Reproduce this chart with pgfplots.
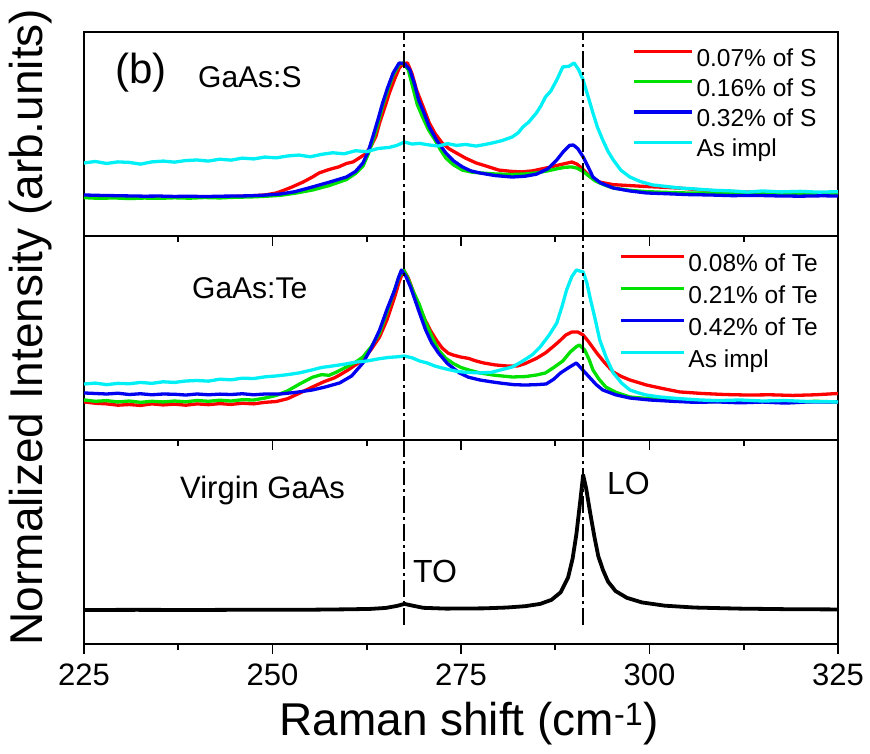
\documentclass[border=0pt]{standalone}
\usepackage{fontspec}
\setmainfont{Liberation Sans}
\usepackage{pgfplots}
\pgfplotsset{compat=1.18}

\definecolor{cRed}{RGB}{255,0,0}
\definecolor{cGreen}{RGB}{0,225,0}
\definecolor{cBlue}{RGB}{0,0,240}
\definecolor{cCyan}{RGB}{0,240,245}

\pgfplotsset{
  panel/.style={
    scale only axis, width=754pt, height=204pt,
    xmin=225, xmax=325,
    xtick={225,250,275,300,325},
    minor xtick={237.5,262.5,287.5,312.5},
    xtick pos=bottom, ytick=\empty,
    tick align=outside,
    major tick length=10pt, minor tick length=6pt,
    every tick/.append style={black, line width=1.6pt},
    axis line style={line width=2pt},
    /pgf/number format/assume math mode=true,
    xticklabel style={font=\fontsize{31}{37}\selectfont, anchor=base, yshift=-31pt},
    legend cell align=left,
  },
  spec/.style={line width=3.3pt, line join=round},
  guide/.style={black, line width=2pt, dash pattern=on 17pt off 4pt on 3pt off 4pt, forget plot},
}

\begin{document}
\begin{tikzpicture}
\path[use as bounding box] (-84pt,-109pt) rectangle (786pt,644pt);

% ---------------- GaAs:S ----------------
\begin{axis}[panel, at={(0pt,408pt)}, anchor=south west,
  ymin=-0.291, ymax=1.231, xticklabels={},
  legend style={draw=none, fill=none, at={(0.7268,0.920)}, anchor=north west,
    inner sep=0pt, row sep=7.8pt,
    nodes={inner xsep=3pt, inner ysep=0pt, text height=17.5pt, text depth=5pt,
      font=\fontsize{24.5}{29}\selectfont}},
  legend image code/.code={\draw[#1] (0pt,8.5pt) -- (58pt,8.5pt);}]
\addplot[spec, cRed] coordinates {
(225,.010)(227,.004)(229,.000)(231,-.003)(233,.001)(235,-.004)(237,.000)(239,-.003)
(241,.002)(243,.000)(245,.004)(247,.008)(249,.015)(250.5,.030)(251.5,.050)(252.6,.075)
(254,.110)(255.3,.149)(256.2,.180)(257.5,.205)(258.8,.225)(259.8,.250)(260.7,.262)
(261.5,.291)(262.3,.320)(263,.373)(263.7,.450)(264.2,.552)(264.9,.670)(265.5,.776)
(266.2,.880)(266.8,.960)(267.3,.995)(267.9,1.0)(268.5,.920)(269.1,.799)(270,.670)
(270.8,.552)(271.6,.470)(272.5,.403)(273.4,.360)(274.4,.328)(275.6,.290)(277,.254)
(278.5,.228)(280,.201)(281.5,.192)(283,.187)(284.5,.195)(286,.213)(287,.225)(288,.239)
(289,.252)(289.7,.261)(290.4,.245)(291,.216)(291.8,.170)(292.5,.135)(293.5,.110)
(295.2,.092)(297.4,.085)(299.6,.078)(302,.072)(304,.066)(307,.052)(310,.042)(313,.037)
(317,.033)(321,.031)(325,.030)};
\addlegendentry{0.07\% of S}
\addplot[spec, cGreen] coordinates {
(225,-.005)(227,-.010)(229,-.007)(231,-.012)(233,-.008)(235,-.010)(237,-.006)(239,-.009)
(241,-.004)(243,-.007)(245,-.002)(247,.000)(249,.005)(251,.012)(253,.028)(255.3,.052)
(257.5,.085)(259.8,.130)(261,.175)(262,.230)(262.7,.320)(263.3,.420)(264,.550)(264.6,.680)
(265.3,.800)(266,.910)(266.8,.990)(267.3,1.0)(268,.950)(268.6,.820)(269.2,.690)(269.9,.597)
(270.7,.500)(271.5,.430)(272.3,.350)(273,.290)(274,.240)(275.2,.200)(276.5,.185)(277.5,.180)
(279.5,.172)(281.8,.168)(283.5,.172)(285,.180)(286.5,.195)(287.7,.210)(288.8,.222)
(289.7,.224)(290.4,.215)(291.2,.190)(292,.155)(292.8,.120)(294,.090)(295.2,.067)
(297.4,.050)(299.6,.040)(302,.035)(305,.030)(309,.028)(313,.024)(317,.027)(321,.022)(325,.025)};
\addlegendentry{0.16\% of S}
\addplot[spec, cBlue] coordinates {
(225,.015)(227,.012)(229,.010)(231,.008)(233,.006)(235,.007)(237,.004)(239,.006)(241,.003)
(243,.006)(245,.007)(247,.009)(249,.014)(251,.022)(253,.040)(255.3,.075)(257.5,.110)
(259.8,.149)(261,.190)(262,.254)(262.7,.340)(263.3,.448)(264,.580)(264.6,.701)(265.3,.820)
(266,.925)(266.8,1.0)(267.5,.995)(268.2,.950)(268.8,.850)(269.4,.720)(270,.640)(270.8,.522)
(271.8,.420)(273,.328)(274,.270)(275.2,.224)(276.3,.195)(277.5,.179)(279.5,.160)(281.8,.149)
(283.5,.155)(285,.170)(286.5,.210)(287.7,.276)(288.6,.340)(289.4,.385)(289.9,.388)
(290.5,.360)(291.2,.299)(291.9,.220)(292.5,.149)(293.5,.105)(295.2,.067)(297.4,.045)
(299.6,.030)(302,.025)(305,.018)(308,.015)(311,.010)(314,.012)(317,.008)(320,.006)(323,.009)(325,.007)};
\addlegendentry{0.32\% of S}
\addplot[spec, cCyan] coordinates {
(225,.254)(226.5,.265)(228,.250)(229.5,.262)(231,.258)(232.5,.245)(234,.262)(235.5,.268)
(237,.260)(238.5,.272)(240,.276)(241.5,.268)(243,.282)(244.5,.275)(246,.290)(247.5,.284)
(249,.298)(250.5,.292)(252,.306)(253.5,.313)(255,.300)(256.5,.318)(258,.330)(259.5,.322)
(261,.345)(262.5,.338)(264,.362)(265.5,.370)(266.5,.385)(267.5,.410)(268.5,.395)(269.5,.400)
(270.8,.388)(272,.380)(273.2,.398)(274.4,.385)(275.6,.392)(277,.380)(278.2,.392)(279.3,.405)
(280.4,.420)(281.8,.448)(282.6,.480)(283.2,.522)(284,.560)(285,.627)(285.6,.680)(286.2,.746)
(286.9,.790)(287.7,.873)(288.5,.970)(289.3,.975)(290,1.0)(290.6,.950)(291.2,.873)(291.8,.760)
(292.5,.627)(293.1,.520)(293.8,.425)(294.5,.340)(295.2,.276)(296.2,.200)(297.4,.149)
(298.8,.115)(300.4,.090)(302,.080)(304,.067)(306,.060)(308.5,.050)(311,.045)(313,.037)
(315,.045)(317.5,.038)(320,.042)(322.5,.036)(325,.040)};
\addlegendentry{As impl}
\addplot[guide] coordinates {(267.5,-0.5)(267.5,1.5)};
\addplot[guide] coordinates {(291.2,-0.5)(291.2,1.5)};
\end{axis}

% ---------------- GaAs:Te ----------------
\begin{axis}[panel, at={(0pt,204pt)}, anchor=south west,
  ymin=-0.308, ymax=1.262, xticklabels={},
  legend style={draw=none, fill=none, at={(0.7095,0.915)}, anchor=north west,
    inner sep=0pt, row sep=9.5pt,
    nodes={inner xsep=3pt, inner ysep=0pt, text height=17.5pt, text depth=5pt,
      font=\fontsize{24.5}{29}\selectfont}},
  legend image code/.code={\draw[#1] (0pt,8.5pt) -- (63pt,8.5pt);}]
\addplot[spec, cRed] coordinates {
(225,-.015)(226.5,-.025)(228,-.030)(229.5,-.040)(231,-.035)(232.5,-.042)(234,-.030)
(235.5,-.038)(237,-.032)(238.5,-.040)(240,-.030)(241.5,-.036)(243,-.028)(244.5,-.034)
(246,-.025)(247.5,-.030)(249,-.018)(250.5,-.012)(252,.010)(253.5,.050)(255.3,.100)
(256.8,.140)(258.2,.170)(258.9,.192)(260,.230)(261,.270)(262,.308)(263.1,.390)(264.2,.485)
(265.2,.620)(266.2,.792)(266.8,.910)(267.4,1.0)(268,.940)(268.7,.830)(269.5,.715)(270.2,.620)
(271,.530)(271.8,.455)(272.5,.400)(273.3,.360)(274,.345)(275,.330)(276,.320)(277,.300)
(278,.285)(279.5,.270)(281,.262)(282.5,.262)(283.5,.280)(285,.320)(286.2,.362)(287.2,.410)
(288,.450)(288.9,.500)(289.7,.523)(290.5,.523)(291.2,.500)(291.9,.450)(293,.362)(294,.290)
(295.2,.215)(296.3,.180)(297.4,.154)(299.6,.115)(302,.085)(304,.062)(307,.050)(310,.042)
(313,.038)(316,.040)(319,.035)(322,.040)(325,.050)};
\addlegendentry{0.08\% of Te}
\addplot[spec, cGreen] coordinates {
(225,.000)(226.5,-.010)(228,-.005)(229.5,-.015)(231,-.008)(232.5,-.018)(234,-.010)
(235.5,-.015)(237,-.008)(238.5,-.014)(240,-.004)(241.5,-.010)(243,-.002)(244.5,-.008)
(246,.002)(247.5,.000)(249,.015)(250.5,.035)(252,.070)(253.5,.120)(255.3,.175)(256.5,.195)
(257.5,.190)(258.5,.215)(259.8,.254)(261,.290)(262,.331)(263.1,.410)(264.2,.515)(265.2,.680)
(266.2,.846)(266.8,.950)(267.4,1.0)(268,.930)(268.7,.830)(269.5,.731)(270.3,.600)(271.2,.480)
(272,.385)(273,.320)(274,.280)(275,.250)(276.2,.228)(277.5,.208)(279.5,.190)(281.8,.177)
(283.5,.180)(285,.192)(286.2,.208)(287.3,.250)(288.5,.300)(289.5,.370)(290.3,.410)
(290.7,.423)(291.4,.385)(292,.310)(292.5,.231)(293.3,.160)(294.2,.100)(295.5,.060)
(297.4,.023)(300,.010)(303,.000)(306.7,-.015)(310,-.010)(313,-.018)(316,-.012)(319,-.020)
(322,-.010)(325,-.015)};
\addlegendentry{0.21\% of Te}
\addplot[spec, cBlue] coordinates {
(225,.054)(226.5,.050)(228,.046)(229.5,.052)(231,.042)(232.5,.048)(234,.040)(235.5,.046)
(237,.044)(238.5,.038)(240,.046)(241.5,.040)(243,.045)(244.5,.042)(246,.048)(247.5,.040)
(249,.046)(251,.046)(253,.058)(255.3,.077)(257,.100)(258.9,.131)(260.5,.185)(262,.285)
(263.1,.400)(264.2,.538)(265.2,.700)(266.2,.846)(266.7,.940)(267.1,1.0)(267.7,.950)
(268.3,.870)(268.9,.770)(269.5,.669)(270.3,.540)(271.1,.440)(272,.362)(273.2,.280)
(274.8,.208)(276,.175)(277.5,.154)(279,.140)(280.5,.128)(282,.118)(283.5,.115)(285,.118)
(286.3,.123)(287.3,.160)(288.2,.208)(289.3,.250)(290.3,.285)(291,.240)(292,.177)(292.9,.120)
(293.8,.077)(295.5,.040)(297.4,.015)(300,.000)(303,-.010)(306,-.018)(309,-.015)(312,-.022)
(315,-.016)(318,-.024)(321,-.015)(325,-.015)};
\addlegendentry{0.42\% of Te}
\addplot[spec, cCyan] coordinates {
(225,.123)(226.5,.130)(228,.118)(229.5,.128)(231,.125)(232.5,.135)(234,.128)(235.5,.140)
(237,.135)(238.5,.146)(240,.150)(241.5,.145)(243,.160)(244.5,.155)(246,.168)(247.5,.165)
(249,.178)(250.5,.185)(252,.195)(253.5,.208)(255,.228)(256.5,.250)(258,.262)(259.5,.275)
(260.9,.290)(262.5,.300)(264.2,.318)(265.5,.328)(266.5,.332)(267.5,.338)(268.5,.325)
(269.5,.300)(270.5,.285)(271.5,.262)(272.5,.246)(273.5,.232)(274.5,.220)(275.5,.214)
(277.5,.208)(279,.212)(280.5,.235)(281.8,.254)(283.2,.300)(284.5,.350)(285.5,.408)
(286.7,.500)(287.7,.592)(288.4,.720)(289,.846)(289.7,.950)(290.3,1.0)(291.2,.985)
(291.7,.900)(292.1,.792)(292.8,.620)(293.4,.462)(294.3,.320)(295.2,.208)(296.3,.130)
(297.4,.077)(298.5,.055)(299.6,.038)(301.4,.023)(304,.010)(306.7,.000)(309,-.005)(312,.000)
(315,-.008)(318,-.004)(321,-.012)(325,-.015)};
\addlegendentry{As impl}
\addplot[guide] coordinates {(267.5,-0.5)(267.5,1.5)};
\addplot[guide] coordinates {(291.2,-0.5)(291.2,1.5)};
\end{axis}

% ---------------- Virgin GaAs ----------------
\begin{axis}[panel, at={(0pt,0pt)}, anchor=south west,
  ymin=-0.252, ymax=1.259]
\addplot[black, line width=3.8pt, line join=round] coordinates {
(225,.000)(232,.001)(240,.000)(248,.002)(255,.002)(260,.005)(263,.008)(265,.015)
(266.5,.030)(267.5,.045)(268.5,.033)(270,.016)(273,.010)(278,.012)(281,.018)(283.5,.028)
(285.5,.045)(287,.075)(288.2,.130)(289.2,.240)(289.8,.380)(290.3,.560)(290.8,.800)
(291.2,1.0)(291.6,.900)(292.1,.730)(292.7,.540)(293.2,.400)(293.8,.300)(294.5,.210)
(295.5,.140)(297,.090)(299,.056)(302,.032)(306,.018)(312,.010)(318,.006)(325,.004)};
\addplot[guide] coordinates {(267.5,-0.111)(267.5,1.5)};
\addplot[guide] coordinates {(291.2,-0.111)(291.2,1.5)};
\end{axis}

% panel captions and axis titles
\node[anchor=base, inner sep=0pt, font=\fontsize{42}{50}\selectfont] at (57pt,560pt) {(b)};
\node[anchor=base west, inner sep=0pt, font=\fontsize{30}{36}\selectfont] at (114pt,556pt) {GaAs:S};
\node[anchor=base west, inner sep=0pt, font=\fontsize{30}{36}\selectfont] at (108pt,345pt) {GaAs:Te};
\node[anchor=base west, inner sep=0pt, font=\fontsize{31}{37}\selectfont] at (96pt,146pt) {Virgin GaAs};
\node[anchor=base west, inner sep=0pt, font=\fontsize{32}{38}\selectfont] at (329pt,62pt) {TO};
\node[anchor=base west, inner sep=0pt, font=\fontsize{32}{38}\selectfont] at (523pt,150pt) {LO};
\node[anchor=base, inner sep=0pt, font=\fontsize{46}{55}\selectfont] at (385pt,-91pt)
  {Raman shift (cm\textsuperscript{-1})};
\node[anchor=base, rotate=90, inner sep=0pt, font=\fontsize{46}{55}\selectfont] at (-41pt,317pt)
  {Normalized Intensity (arb.units)};
\end{tikzpicture}
\end{document}
